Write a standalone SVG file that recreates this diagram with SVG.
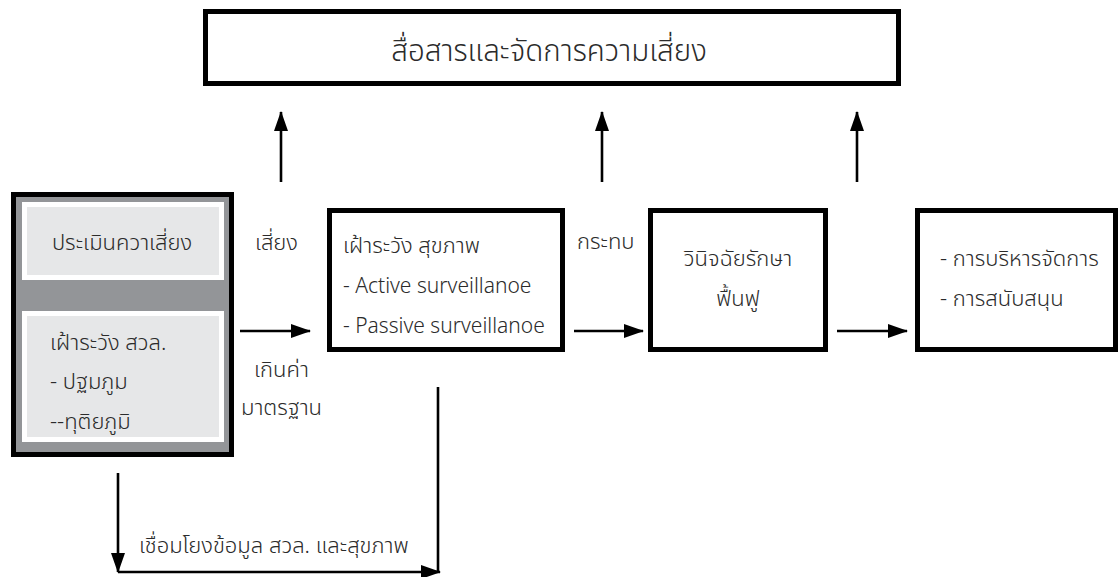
<svg xmlns="http://www.w3.org/2000/svg" width="1118" height="577" viewBox="0 0 1118 577">
<style>
text{font-family:"Noto Sans Thai","Noto Sans","Liberation Sans",sans-serif;font-size:22px;font-weight:300;fill:#2b2b2b}
.box{fill:#fff;stroke:#000;stroke-width:5}
.conn{stroke:#000;stroke-width:2.6;fill:none}
.title{font-size:29.5px}
.lat{font-size:21px}
.mid{text-anchor:middle}
</style>
<defs>
<marker id="ah" viewBox="0 0 20 14" markerWidth="20" markerHeight="14" refX="19" refY="7" orient="auto" markerUnits="userSpaceOnUse">
<path d="M0,0 L20,7 L0,14 Z" fill="#000"/>
</marker>
</defs>
<rect width="1118" height="577" fill="#fff"/>
<g id="top">
<rect class="box" x="205.5" y="11.5" width="693" height="72"/>
<text class="title mid" x="549" y="61">สื่อสารและจัดการความเสี่ยง</text>
</g>
<g id="left">
<rect x="13.5" y="194.5" width="218" height="260" fill="#939598" stroke="#000" stroke-width="5"/>
<rect x="24.5" y="204.5" width="197" height="73" fill="#e6e7e8" stroke="#fff" stroke-width="5"/>
<rect x="24.5" y="313.5" width="197" height="126" fill="#e6e7e8" stroke="#fff" stroke-width="5"/>
<text class="mid" x="122" y="250">ประเมินควาเสี่ยง</text>
<text x="50" y="350">เฝ้าระวัง สวล.</text>
<text x="50" y="389">- ปฐมภูม</text>
<text x="50" y="429">--ทุติยภูมิ</text>
</g>
<g id="health">
<rect class="box" x="329.5" y="210.5" width="233" height="139"/>
<text x="343" y="253">เฝ้าระวัง สุขภาพ</text>
<text class="lat" x="343" y="293">- Active surveillanoe</text>
<text class="lat" x="343" y="333">- Passive surveillanoe</text>
</g>
<g id="treat">
<rect class="box" x="650.5" y="210.5" width="175" height="139"/>
<text class="mid" x="738" y="266">วินิจฉัยรักษา</text>
<text class="mid" x="738" y="306">ฟื้นฟู</text>
</g>
<g id="manage">
<rect class="box" x="917.5" y="210.5" width="198" height="139"/>
<text x="940" y="266">- การบริหารจัดการ</text>
<text x="940" y="306">- การสนับสนุน</text>
</g>
<g id="connectors">
<line class="conn" x1="281" y1="182" x2="281" y2="112" marker-end="url(#ah)"/>
<line class="conn" x1="602" y1="182" x2="602" y2="112" marker-end="url(#ah)"/>
<line class="conn" x1="857" y1="182" x2="857" y2="112" marker-end="url(#ah)"/>
<line class="conn" x1="240" y1="331" x2="310" y2="331" marker-end="url(#ah)"/>
<line class="conn" x1="574" y1="331" x2="643" y2="331" marker-end="url(#ah)"/>
<line class="conn" x1="837" y1="331" x2="907" y2="331" marker-end="url(#ah)"/>
<line class="conn" x1="118" y1="473" x2="118" y2="572" marker-end="url(#ah)"/>
<line class="conn" x1="118" y1="572" x2="440" y2="572" marker-end="url(#ah)"/>
<line class="conn" x1="438" y1="387" x2="438" y2="573"/>
</g>
<g id="labels">
<text x="255" y="250">เสี่ยง</text>
<text x="577" y="249">กระทบ</text>
<text x="254" y="377">เกินค่า</text>
<text x="241" y="415">มาตรฐาน</text>
<text x="139" y="553">เชื่อมโยงข้อมูล สวล. และสุขภาพ</text>
</g>
</svg>
